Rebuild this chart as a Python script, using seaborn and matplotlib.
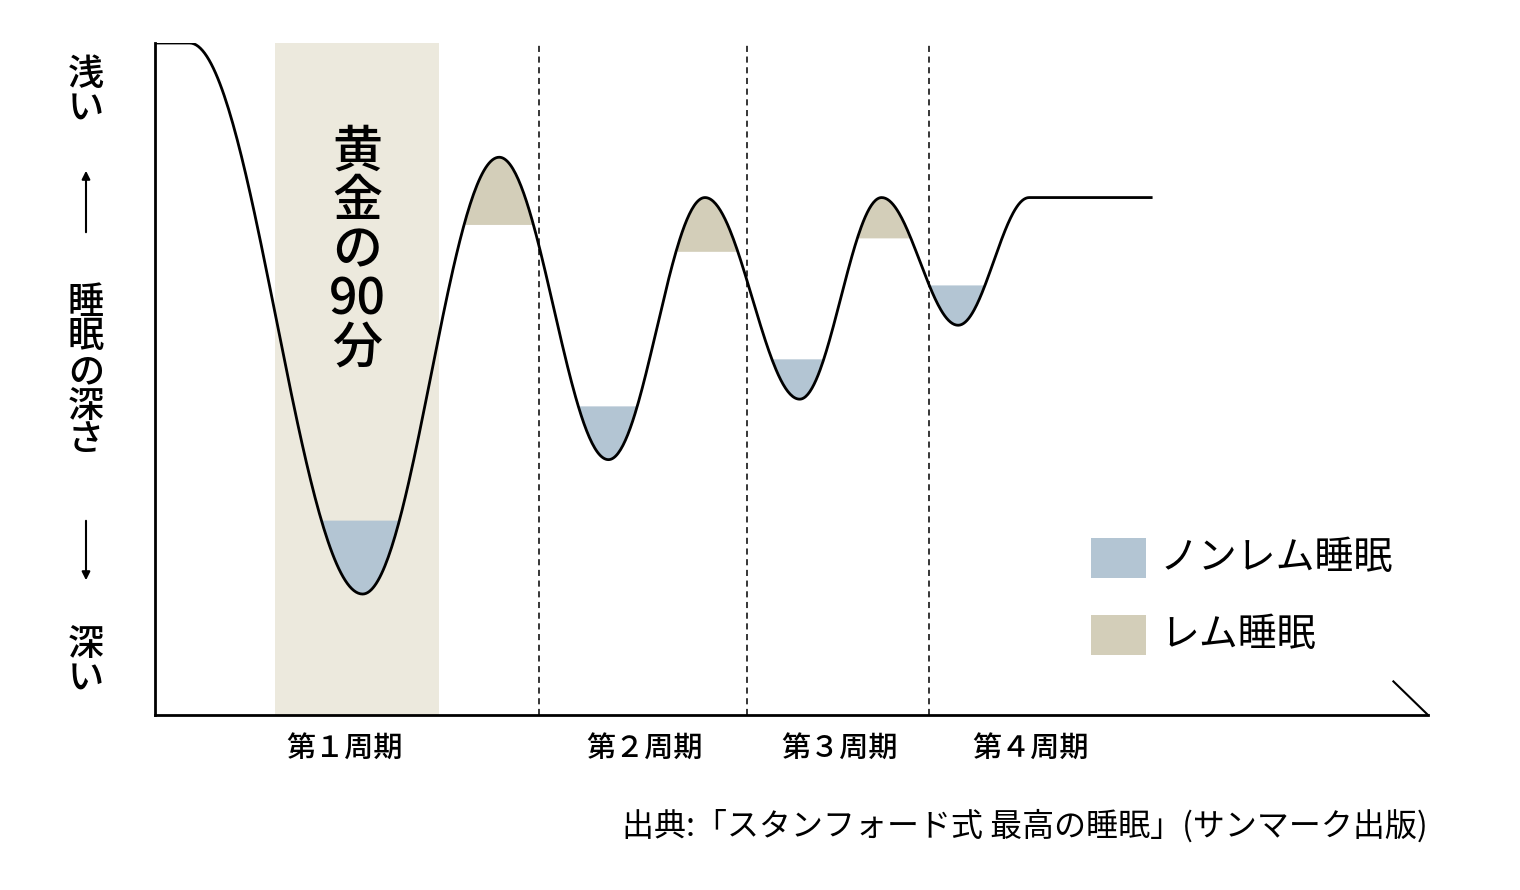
import numpy as np
import pandas as pd
import matplotlib
matplotlib.use("Agg")
import matplotlib.pyplot as plt
import seaborn as sns
from matplotlib.patches import Rectangle

plt.rcParams["font.family"] = "Noto Sans CJK JP"

# key points of the sleep curve: time (min), depth (0 = shallow, 100 = deep)
key_time = [0, 19, 114, 189, 249, 302, 354, 399, 441, 480, 547]
key_depth = [0, 0, 82, 17, 62, 23, 53, 23, 42, 23, 23]
# non-REM (deep) troughs: index of key point, threshold depth
nrem_idx = [2, 4, 6, 8]
nrem_thr = [71, 54, 47, 36]
# REM peaks
rem_idx = [3, 5, 7]
rem_thr = [27, 31, 29]
golden = (66, 156)
cycle_bounds = [211, 325, 425]
cycle_labels = ["第１周期", "第２周期", "第３周期", "第４周期"]
cycle_pos = [104, 269, 376, 481]

# smooth rendering between key points (cosine easing)
xs, ys = [], []
for i in range(len(key_time) - 1):
    t = np.linspace(0, 1, 80, endpoint=False)
    e = 0.5 - 0.5 * np.cos(np.pi * t)
    xs.append(key_time[i] + (key_time[i + 1] - key_time[i]) * t)
    ys.append(key_depth[i] + (key_depth[i + 1] - key_depth[i]) * e)
xs.append([key_time[-1]]); ys.append([key_depth[-1]])
X = np.concatenate(xs); Y = np.concatenate(ys)
df = pd.DataFrame({"time": X, "depth": Y})

fig = plt.figure(figsize=(15.2, 8.9), dpi=100)
ax = fig.add_axes([155 / 1520, 175 / 890, 1273 / 1520, 672 / 890])
ax.set_xlim(0, 699)
ax.set_ylim(100, 0)

ax.axvspan(*golden, color="#ECE9DD", zorder=0, lw=0)
for b in cycle_bounds:
    ax.axvline(b, color="black", ls=(0, (4, 3)), lw=1.1, zorder=1)

blue, tan = "#B3C5D3", "#D3CEB9"
for idx, thr in zip(nrem_idx, nrem_thr):
    m = (X > key_time[idx - 1]) & (X < key_time[idx + 1])
    ax.fill_between(X[m], thr, Y[m], where=Y[m] >= thr, color=blue, lw=0, zorder=2)
for idx, thr in zip(rem_idx, rem_thr):
    m = (X > key_time[idx - 1]) & (X < key_time[idx + 1])
    ax.fill_between(X[m], thr, Y[m], where=Y[m] <= thr, color=tan, lw=0, zorder=2)

sns.lineplot(data=df, x="time", y="depth", ax=ax, color="black", lw=2, zorder=3, sort=False)

for s in ["top", "right"]:
    ax.spines[s].set_visible(False)
for s in ["left", "bottom"]:
    ax.spines[s].set_linewidth(2)
ax.set_xticks([]); ax.set_yticks([])
ax.set_xlabel(""); ax.set_ylabel("")
ax.plot([680, 699], [95, 100], color="black", lw=1.5, clip_on=False)

ax.text(sum(golden) / 2, 31, "黄\n金\nの\n90\n分", ha="center", va="center",
        fontsize=36, linespacing=0.98, zorder=4, fontweight="medium")
for lab, p in zip(cycle_labels, cycle_pos):
    ax.text(p, 105, lab, ha="center", va="center", fontsize=21, clip_on=False,
            fontweight="medium")

# y-axis vertical labels
fx = 86 / 1520
def fy(py): return 1 - py / 890
kw = dict(ha="center", va="center", fontsize=26, linespacing=0.95, fontweight="medium")
fig.text(fx, fy(92), "浅\nい", **kw)
fig.text(fx, fy(372), "睡\n眠\nの\n深\nさ", **kw)
fig.text(fx, fy(662), "深\nい", **kw)
fig.patches.append(matplotlib.patches.FancyArrowPatch((fx, fy(235)), (fx, fy(168)),
    transform=fig.transFigure, arrowstyle="-|>", mutation_scale=12, lw=1.5, color="black"))
fig.patches.append(matplotlib.patches.FancyArrowPatch((fx, fy(518)), (fx, fy(583)),
    transform=fig.transFigure, arrowstyle="-|>", mutation_scale=12, lw=1.5, color="black"))

# legend
for py, col, lab in [(538, blue, "ノンレム睡眠"), (615, tan, "レム睡眠")]:
    fig.patches.append(Rectangle((1091 / 1520, fy(py + 40)), 55 / 1520, 40 / 890,
                                 transform=fig.transFigure, color=col, lw=0))
    fig.text(1160 / 1520, fy(py + 20), lab, ha="left", va="center", fontsize=28)

fig.text(1428 / 1520, fy(826), "出典:「スタンフォード式 最高の睡眠」(サンマーク出版)",
         ha="right", va="center", fontsize=23)

fig.savefig("out.png", dpi=100)
